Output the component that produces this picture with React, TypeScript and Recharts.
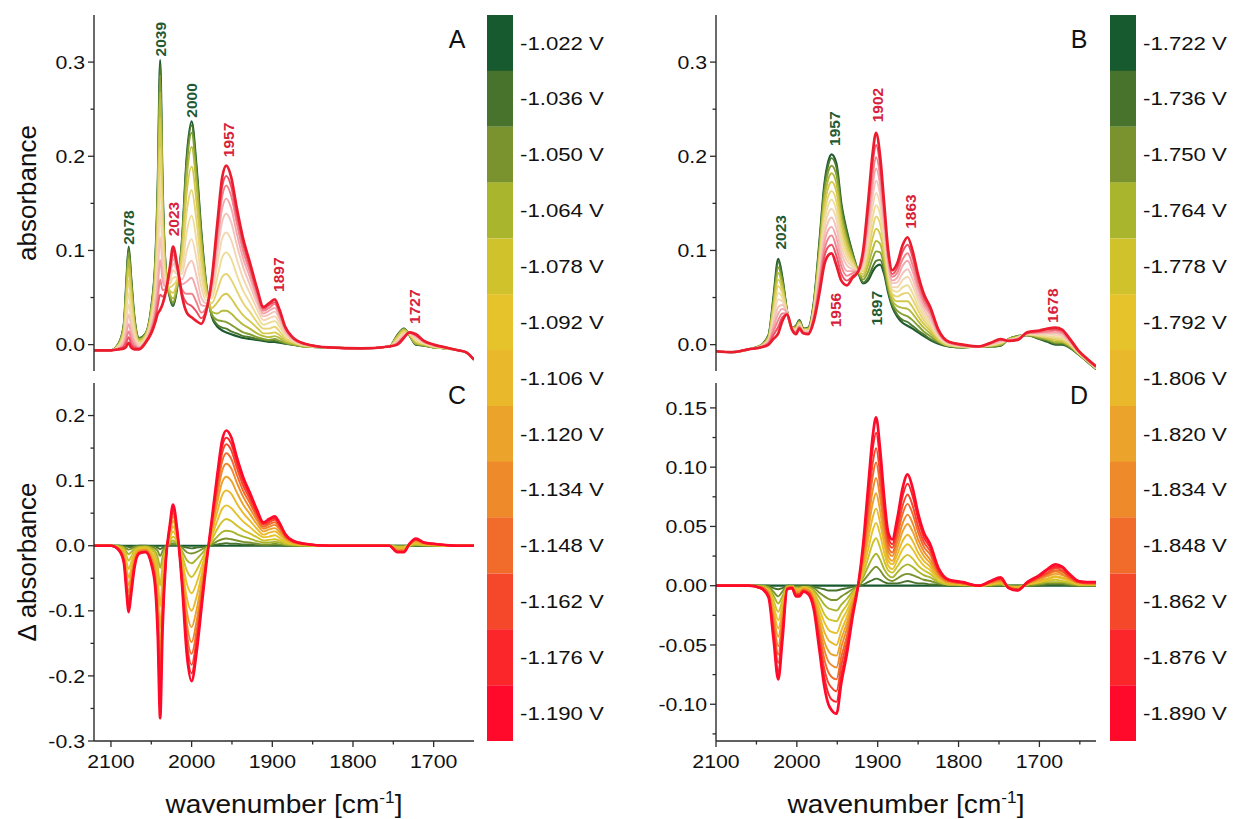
import React from "react";
import { LineChart, Line, XAxis, YAxis, BarChart, Bar, Cell, ReferenceDot } from "recharts";

const FONT = '"Liberation Sans", Arial, sans-serif';
const INK = "#2b2b2b";
const LABEL_INK = "#111111";
const GREEN_TEXT = "#1f5a32";
const RED_TEXT = "#d8213b";

// ---------- data: wavenumber grids [cm-1] ----------
const A_WN = [2121, 2100, 2090, 2084, 2081, 2078, 2075, 2071, 2065, 2057, 2050, 2045, 2042, 2039, 2036, 2032, 2027, 2023, 2018, 2012, 2006, 2000, 1994, 1988, 1982, 1975, 1968, 1962, 1957, 1951, 1944, 1936, 1928, 1919, 1911, 1904, 1897, 1891, 1884, 1875, 1860, 1830, 1790, 1755, 1745, 1737, 1730, 1722, 1712, 1700, 1685, 1670, 1660, 1650];
const B_WN = [2100, 2080, 2060, 2045, 2035, 2029, 2023, 2018, 2012, 2006, 2001, 1997, 1992, 1986, 1979, 1972, 1966, 1961, 1957, 1951, 1945, 1938, 1931, 1924, 1918, 1912, 1906, 1902, 1897, 1892, 1887, 1882, 1876, 1869, 1863, 1857, 1850, 1843, 1835, 1825, 1812, 1795, 1775, 1760, 1748, 1738, 1727, 1715, 1700, 1690, 1680, 1672, 1663, 1652, 1641, 1630];

// panel A: absorbance, one row per potential (-1.022 V ... -1.190 V)
const A_ABS = [
  [-0.006, -0.006, 0.002, 0.022, 0.065, 0.104, 0.072, 0.030, 0.007, 0.012, 0.040, 0.090, 0.170, 0.302, 0.170, 0.080, 0.050, 0.041, 0.060, 0.110, 0.200, 0.237, 0.190, 0.120, 0.065, 0.030, 0.019, 0.015, 0.013, 0.011, 0.009, 0.007, 0.006, 0.005, 0.004, 0.003, 0.003, 0.002, 0.001, 0.000, -0.002, -0.003, -0.004, -0.002, 0.010, 0.017, 0.010, 0.000, -0.001, -0.003, -0.004, -0.006, -0.008, -0.016],
  [-0.006, -0.006, 0.002, 0.021, 0.064, 0.102, 0.070, 0.029, 0.007, 0.012, 0.039, 0.089, 0.167, 0.297, 0.167, 0.080, 0.051, 0.042, 0.061, 0.109, 0.197, 0.233, 0.187, 0.118, 0.064, 0.031, 0.021, 0.018, 0.017, 0.014, 0.012, 0.009, 0.008, 0.006, 0.005, 0.004, 0.004, 0.003, 0.001, 0.000, -0.002, -0.003, -0.004, -0.002, 0.010, 0.017, 0.010, 0.000, -0.001, -0.003, -0.004, -0.006, -0.008, -0.016],
  [-0.006, -0.006, 0.002, 0.020, 0.061, 0.098, 0.067, 0.028, 0.006, 0.011, 0.038, 0.086, 0.162, 0.286, 0.162, 0.079, 0.052, 0.045, 0.062, 0.107, 0.190, 0.225, 0.180, 0.114, 0.063, 0.032, 0.026, 0.025, 0.024, 0.021, 0.017, 0.013, 0.011, 0.008, 0.006, 0.005, 0.006, 0.004, 0.002, 0.000, -0.002, -0.003, -0.004, -0.002, 0.009, 0.016, 0.010, 0.001, -0.001, -0.003, -0.004, -0.006, -0.008, -0.016],
  [-0.006, -0.006, 0.001, 0.019, 0.056, 0.091, 0.062, 0.025, 0.005, 0.011, 0.036, 0.081, 0.152, 0.268, 0.153, 0.077, 0.054, 0.049, 0.063, 0.102, 0.178, 0.210, 0.169, 0.107, 0.061, 0.035, 0.033, 0.036, 0.036, 0.033, 0.027, 0.021, 0.017, 0.012, 0.009, 0.008, 0.009, 0.007, 0.003, 0.001, -0.002, -0.003, -0.004, -0.002, 0.009, 0.016, 0.010, 0.001, 0.000, -0.003, -0.004, -0.006, -0.008, -0.016],
  [-0.006, -0.006, 0.000, 0.016, 0.050, 0.081, 0.055, 0.022, 0.004, 0.010, 0.034, 0.075, 0.138, 0.241, 0.141, 0.074, 0.057, 0.055, 0.066, 0.097, 0.162, 0.189, 0.152, 0.097, 0.058, 0.039, 0.045, 0.052, 0.054, 0.049, 0.040, 0.031, 0.025, 0.018, 0.012, 0.012, 0.013, 0.010, 0.005, 0.002, -0.001, -0.003, -0.004, -0.002, 0.008, 0.015, 0.011, 0.003, 0.000, -0.002, -0.004, -0.006, -0.008, -0.016],
  [-0.006, -0.006, 0.000, 0.013, 0.042, 0.068, 0.046, 0.018, 0.003, 0.008, 0.030, 0.067, 0.122, 0.209, 0.126, 0.072, 0.061, 0.063, 0.069, 0.090, 0.142, 0.164, 0.132, 0.086, 0.054, 0.044, 0.058, 0.072, 0.075, 0.069, 0.057, 0.044, 0.035, 0.024, 0.017, 0.017, 0.019, 0.014, 0.007, 0.003, -0.001, -0.003, -0.004, -0.002, 0.006, 0.013, 0.011, 0.004, 0.001, -0.002, -0.004, -0.006, -0.008, -0.016],
  [-0.006, -0.006, -0.001, 0.010, 0.033, 0.055, 0.036, 0.013, 0.001, 0.007, 0.027, 0.058, 0.104, 0.175, 0.109, 0.068, 0.065, 0.071, 0.072, 0.082, 0.120, 0.137, 0.111, 0.073, 0.051, 0.049, 0.072, 0.093, 0.098, 0.091, 0.074, 0.057, 0.045, 0.031, 0.021, 0.023, 0.025, 0.019, 0.010, 0.004, -0.001, -0.003, -0.004, -0.002, 0.005, 0.012, 0.011, 0.005, 0.001, -0.002, -0.004, -0.006, -0.008, -0.016],
  [-0.006, -0.006, -0.002, 0.006, 0.025, 0.043, 0.027, 0.009, 0.000, 0.006, 0.023, 0.050, 0.088, 0.143, 0.094, 0.066, 0.069, 0.079, 0.075, 0.075, 0.100, 0.112, 0.091, 0.061, 0.047, 0.054, 0.086, 0.113, 0.119, 0.111, 0.091, 0.070, 0.055, 0.038, 0.026, 0.028, 0.030, 0.023, 0.012, 0.005, 0.000, -0.003, -0.004, -0.002, 0.004, 0.011, 0.012, 0.007, 0.002, -0.001, -0.003, -0.006, -0.008, -0.016],
  [-0.006, -0.006, -0.003, 0.004, 0.017, 0.032, 0.019, 0.005, -0.002, 0.005, 0.020, 0.043, 0.073, 0.114, 0.080, 0.063, 0.073, 0.086, 0.078, 0.069, 0.082, 0.089, 0.073, 0.050, 0.044, 0.058, 0.098, 0.131, 0.139, 0.130, 0.106, 0.082, 0.064, 0.044, 0.030, 0.032, 0.035, 0.027, 0.014, 0.006, 0.000, -0.003, -0.004, -0.002, 0.003, 0.010, 0.012, 0.008, 0.003, -0.001, -0.003, -0.006, -0.008, -0.016],
  [-0.006, -0.006, -0.004, 0.001, 0.011, 0.022, 0.012, 0.002, -0.003, 0.004, 0.018, 0.037, 0.060, 0.090, 0.068, 0.061, 0.076, 0.091, 0.080, 0.064, 0.067, 0.071, 0.058, 0.042, 0.041, 0.062, 0.108, 0.145, 0.155, 0.145, 0.118, 0.091, 0.072, 0.049, 0.033, 0.036, 0.039, 0.030, 0.015, 0.006, 0.000, -0.003, -0.004, -0.002, 0.002, 0.009, 0.012, 0.009, 0.003, -0.001, -0.003, -0.006, -0.008, -0.016],
  [-0.006, -0.006, -0.004, -0.001, 0.006, 0.014, 0.006, -0.001, -0.004, 0.003, 0.015, 0.032, 0.049, 0.069, 0.058, 0.059, 0.078, 0.096, 0.082, 0.059, 0.054, 0.054, 0.045, 0.034, 0.039, 0.065, 0.117, 0.158, 0.169, 0.158, 0.129, 0.099, 0.078, 0.053, 0.036, 0.039, 0.043, 0.033, 0.017, 0.007, 0.001, -0.003, -0.004, -0.002, 0.001, 0.008, 0.013, 0.010, 0.003, 0.000, -0.003, -0.006, -0.008, -0.016],
  [-0.006, -0.006, -0.005, -0.002, 0.002, 0.008, 0.001, -0.003, -0.004, 0.003, 0.014, 0.028, 0.041, 0.053, 0.051, 0.057, 0.080, 0.100, 0.084, 0.055, 0.044, 0.041, 0.035, 0.028, 0.037, 0.068, 0.123, 0.168, 0.179, 0.168, 0.137, 0.106, 0.083, 0.057, 0.038, 0.042, 0.045, 0.035, 0.018, 0.008, 0.001, -0.003, -0.004, -0.002, 0.001, 0.008, 0.013, 0.010, 0.004, 0.000, -0.003, -0.006, -0.008, -0.016],
  [-0.006, -0.006, -0.005, -0.004, -0.002, 0.002, -0.003, -0.005, -0.005, 0.002, 0.012, 0.024, 0.033, 0.037, 0.043, 0.056, 0.082, 0.104, 0.085, 0.052, 0.034, 0.029, 0.025, 0.022, 0.035, 0.070, 0.130, 0.178, 0.190, 0.178, 0.145, 0.112, 0.088, 0.060, 0.040, 0.044, 0.048, 0.037, 0.019, 0.008, 0.001, -0.003, -0.004, -0.002, 0.000, 0.007, 0.013, 0.011, 0.004, 0.000, -0.003, -0.006, -0.008, -0.016],
];

// panel C: difference spectra vs. -1.022 V
const C_DELTA = [
  [0, 0, 0, 0, 0, 0, 0, 0, 0, 0, 0, 0, 0, 0, 0, 0, 0, 0, 0, 0, 0, 0, 0, 0, 0, 0, 0, 0, 0, 0, 0, 0, 0, 0, 0, 0, 0, 0, 0, 0, 0, 0, 0, 0, 0, 0, 0, 0, 0, 0, 0, 0, 0, 0],
  [0, 0, 0, -0.001, -0.001, -0.002, -0.002, -0.001, 0, 0, -0.001, -0.001, -0.003, -0.005, -0.003, 0, 0.001, 0.001, 0.001, -0.001, -0.003, -0.004, -0.003, -0.002, -0.001, 0.001, 0.002, 0.003, 0.004, 0.003, 0.003, 0.002, 0.002, 0.001, 0.001, 0.001, 0.001, 0.001, 0, 0, 0, 0, 0, 0, 0, 0, 0, 0, 0, 0, 0, 0, 0, 0],
  [0, 0, 0, -0.002, -0.004, -0.006, -0.005, -0.002, -0.001, -0.001, -0.002, -0.004, -0.008, -0.016, -0.008, -0.001, 0.002, 0.004, 0.002, -0.003, -0.010, -0.012, -0.010, -0.006, -0.002, 0.002, 0.007, 0.010, 0.011, 0.010, 0.008, 0.006, 0.005, 0.003, 0.002, 0.002, 0.003, 0.002, 0.001, 0, 0, 0, 0, 0, -0.001, -0.001, 0, 0.001, 0, 0, 0, 0, 0, 0],
  [0, 0, -0.001, -0.003, -0.009, -0.013, -0.010, -0.005, -0.002, -0.001, -0.004, -0.009, -0.018, -0.034, -0.017, -0.003, 0.004, 0.008, 0.003, -0.008, -0.022, -0.027, -0.021, -0.013, -0.004, 0.005, 0.014, 0.021, 0.023, 0.022, 0.018, 0.014, 0.011, 0.007, 0.005, 0.005, 0.006, 0.005, 0.002, 0.001, 0, 0, 0, 0, -0.001, -0.001, 0, 0.001, 0.001, 0, 0, 0, 0, 0],
  [0, 0, -0.002, -0.006, -0.015, -0.023, -0.017, -0.008, -0.003, -0.002, -0.006, -0.015, -0.032, -0.061, -0.029, -0.006, 0.007, 0.014, 0.006, -0.013, -0.038, -0.048, -0.038, -0.023, -0.007, 0.009, 0.026, 0.037, 0.041, 0.038, 0.031, 0.024, 0.019, 0.013, 0.008, 0.009, 0.010, 0.008, 0.004, 0.002, 0.001, 0, 0, 0, -0.002, -0.002, 0.001, 0.003, 0.001, 0.001, 0, 0, 0, 0],
  [0, 0, -0.002, -0.009, -0.023, -0.036, -0.026, -0.012, -0.004, -0.004, -0.010, -0.023, -0.048, -0.093, -0.044, -0.008, 0.011, 0.022, 0.009, -0.020, -0.058, -0.073, -0.058, -0.034, -0.011, 0.014, 0.039, 0.057, 0.062, 0.058, 0.048, 0.037, 0.029, 0.019, 0.013, 0.014, 0.016, 0.012, 0.006, 0.003, 0.001, 0, 0, 0, -0.004, -0.004, 0.001, 0.004, 0.002, 0.001, 0, 0, 0, 0],
  [0, 0, -0.003, -0.012, -0.032, -0.049, -0.036, -0.017, -0.006, -0.005, -0.013, -0.032, -0.066, -0.127, -0.061, -0.012, 0.015, 0.030, 0.012, -0.028, -0.080, -0.100, -0.079, -0.047, -0.014, 0.019, 0.053, 0.078, 0.085, 0.080, 0.065, 0.050, 0.039, 0.026, 0.017, 0.020, 0.022, 0.017, 0.009, 0.004, 0.001, 0, 0, 0, -0.005, -0.005, 0.001, 0.005, 0.002, 0.001, 0, 0, 0, 0],
  [0, 0, -0.004, -0.016, -0.040, -0.061, -0.045, -0.021, -0.007, -0.006, -0.017, -0.040, -0.082, -0.159, -0.076, -0.014, 0.019, 0.038, 0.015, -0.035, -0.100, -0.125, -0.099, -0.059, -0.018, 0.024, 0.067, 0.098, 0.106, 0.100, 0.082, 0.063, 0.049, 0.033, 0.022, 0.025, 0.027, 0.021, 0.011, 0.005, 0.002, 0, 0, 0, -0.006, -0.006, 0.002, 0.007, 0.003, 0.002, 0.001, 0, 0, 0],
  [0, 0, -0.005, -0.018, -0.048, -0.072, -0.053, -0.025, -0.009, -0.007, -0.020, -0.047, -0.097, -0.188, -0.090, -0.017, 0.023, 0.045, 0.018, -0.041, -0.118, -0.148, -0.117, -0.070, -0.021, 0.028, 0.079, 0.116, 0.126, 0.119, 0.097, 0.075, 0.058, 0.039, 0.026, 0.029, 0.032, 0.025, 0.013, 0.006, 0.002, 0, 0, 0, -0.007, -0.007, 0.002, 0.008, 0.004, 0.002, 0.001, 0, 0, 0],
  [0, 0, -0.006, -0.021, -0.054, -0.082, -0.060, -0.028, -0.010, -0.008, -0.022, -0.053, -0.110, -0.212, -0.102, -0.019, 0.026, 0.050, 0.020, -0.046, -0.133, -0.166, -0.132, -0.078, -0.024, 0.032, 0.089, 0.130, 0.142, 0.134, 0.109, 0.084, 0.066, 0.044, 0.029, 0.033, 0.036, 0.028, 0.014, 0.006, 0.002, 0, 0, 0, -0.008, -0.008, 0.002, 0.009, 0.004, 0.002, 0.001, 0, 0, 0],
  [0, 0, -0.006, -0.023, -0.059, -0.090, -0.066, -0.031, -0.011, -0.009, -0.025, -0.058, -0.121, -0.233, -0.112, -0.021, 0.028, 0.055, 0.022, -0.051, -0.146, -0.183, -0.145, -0.086, -0.026, 0.035, 0.098, 0.143, 0.156, 0.147, 0.120, 0.092, 0.072, 0.048, 0.032, 0.036, 0.040, 0.031, 0.016, 0.007, 0.003, 0, 0, 0, -0.009, -0.009, 0.003, 0.010, 0.004, 0.003, 0.001, 0, 0, 0],
  [0, 0, -0.007, -0.024, -0.063, -0.096, -0.071, -0.033, -0.011, -0.009, -0.026, -0.062, -0.129, -0.249, -0.119, -0.023, 0.030, 0.059, 0.024, -0.055, -0.156, -0.196, -0.155, -0.092, -0.028, 0.038, 0.104, 0.153, 0.166, 0.157, 0.128, 0.099, 0.077, 0.052, 0.034, 0.039, 0.042, 0.033, 0.017, 0.008, 0.003, 0, 0, 0, -0.009, -0.009, 0.003, 0.010, 0.005, 0.003, 0.001, 0, 0, 0],
  [0, 0, -0.007, -0.026, -0.067, -0.102, -0.075, -0.035, -0.012, -0.010, -0.028, -0.066, -0.137, -0.265, -0.127, -0.024, 0.032, 0.063, 0.025, -0.058, -0.166, -0.208, -0.165, -0.098, -0.030, 0.040, 0.111, 0.163, 0.177, 0.167, 0.136, 0.105, 0.082, 0.055, 0.036, 0.041, 0.045, 0.035, 0.018, 0.008, 0.003, 0, 0, 0, -0.010, -0.010, 0.003, 0.011, 0.005, 0.003, 0.001, 0, 0, 0],
];

// panel B: absorbance (-1.722 V ... -1.890 V)
const B_ABS = [
  [-0.007, -0.008, -0.005, -0.001, 0.010, 0.050, 0.091, 0.072, 0.035, 0.018, 0.020, 0.026, 0.017, 0.018, 0.045, 0.110, 0.170, 0.195, 0.202, 0.192, 0.150, 0.120, 0.097, 0.077, 0.065, 0.068, 0.078, 0.083, 0.085, 0.075, 0.055, 0.040, 0.030, 0.023, 0.020, 0.017, 0.013, 0.009, 0.005, 0.001, -0.002, -0.003, -0.002, -0.002, -0.001, 0.006, 0.009, 0.010, 0.006, 0.003, 0.000, 0.000, -0.003, -0.010, -0.018, -0.026],
  [-0.007, -0.008, -0.005, -0.001, 0.010, 0.048, 0.088, 0.070, 0.035, 0.018, 0.020, 0.026, 0.017, 0.018, 0.044, 0.108, 0.167, 0.191, 0.198, 0.188, 0.147, 0.118, 0.096, 0.077, 0.066, 0.071, 0.083, 0.089, 0.090, 0.078, 0.057, 0.042, 0.032, 0.026, 0.024, 0.020, 0.015, 0.011, 0.006, 0.002, -0.002, -0.003, -0.002, -0.002, -0.001, 0.006, 0.009, 0.010, 0.006, 0.004, 0.001, 0.001, -0.003, -0.010, -0.018, -0.026],
  [-0.007, -0.008, -0.005, -0.001, 0.009, 0.045, 0.082, 0.067, 0.035, 0.018, 0.019, 0.025, 0.016, 0.017, 0.043, 0.104, 0.161, 0.184, 0.190, 0.180, 0.141, 0.114, 0.094, 0.077, 0.069, 0.077, 0.092, 0.099, 0.098, 0.083, 0.060, 0.044, 0.036, 0.032, 0.030, 0.026, 0.020, 0.014, 0.009, 0.003, -0.001, -0.003, -0.002, -0.002, 0.000, 0.006, 0.009, 0.010, 0.007, 0.005, 0.002, 0.002, -0.002, -0.010, -0.018, -0.026],
  [-0.007, -0.008, -0.005, -0.001, 0.008, 0.042, 0.076, 0.063, 0.034, 0.018, 0.018, 0.024, 0.016, 0.017, 0.041, 0.100, 0.154, 0.176, 0.182, 0.171, 0.134, 0.109, 0.092, 0.077, 0.072, 0.084, 0.102, 0.110, 0.107, 0.089, 0.064, 0.047, 0.041, 0.039, 0.038, 0.033, 0.025, 0.018, 0.012, 0.004, -0.001, -0.002, -0.002, -0.001, 0.000, 0.006, 0.008, 0.011, 0.008, 0.006, 0.003, 0.003, -0.001, -0.009, -0.017, -0.025],
  [-0.007, -0.008, -0.005, -0.002, 0.007, 0.038, 0.069, 0.059, 0.034, 0.017, 0.017, 0.023, 0.016, 0.016, 0.039, 0.095, 0.146, 0.167, 0.173, 0.162, 0.127, 0.104, 0.090, 0.077, 0.075, 0.091, 0.114, 0.123, 0.117, 0.096, 0.068, 0.051, 0.046, 0.046, 0.046, 0.040, 0.030, 0.022, 0.015, 0.005, -0.001, -0.002, -0.002, -0.001, 0.001, 0.005, 0.008, 0.011, 0.009, 0.007, 0.005, 0.004, 0.000, -0.009, -0.017, -0.025],
  [-0.007, -0.008, -0.005, -0.002, 0.006, 0.034, 0.062, 0.055, 0.034, 0.017, 0.017, 0.023, 0.015, 0.015, 0.038, 0.090, 0.139, 0.158, 0.163, 0.152, 0.120, 0.099, 0.087, 0.077, 0.078, 0.098, 0.125, 0.136, 0.128, 0.103, 0.072, 0.054, 0.051, 0.054, 0.055, 0.048, 0.036, 0.026, 0.018, 0.007, 0.000, -0.002, -0.002, -0.001, 0.002, 0.005, 0.008, 0.011, 0.009, 0.008, 0.007, 0.006, 0.001, -0.009, -0.017, -0.025],
  [-0.007, -0.008, -0.005, -0.002, 0.005, 0.030, 0.055, 0.050, 0.034, 0.017, 0.016, 0.022, 0.015, 0.015, 0.036, 0.085, 0.131, 0.149, 0.154, 0.142, 0.112, 0.094, 0.085, 0.077, 0.081, 0.106, 0.136, 0.148, 0.138, 0.110, 0.076, 0.058, 0.056, 0.061, 0.063, 0.055, 0.041, 0.030, 0.021, 0.008, 0.000, -0.002, -0.002, 0.000, 0.002, 0.005, 0.007, 0.011, 0.010, 0.009, 0.008, 0.007, 0.002, -0.008, -0.017, -0.025],
  [-0.007, -0.008, -0.005, -0.002, 0.004, 0.026, 0.048, 0.046, 0.033, 0.017, 0.015, 0.021, 0.014, 0.014, 0.034, 0.080, 0.123, 0.140, 0.144, 0.133, 0.105, 0.089, 0.083, 0.078, 0.084, 0.113, 0.148, 0.161, 0.148, 0.116, 0.080, 0.061, 0.061, 0.069, 0.072, 0.063, 0.047, 0.034, 0.024, 0.009, 0.001, -0.001, -0.002, 0.000, 0.003, 0.005, 0.007, 0.012, 0.011, 0.011, 0.010, 0.009, 0.003, -0.008, -0.016, -0.024],
  [-0.007, -0.008, -0.005, -0.002, 0.004, 0.022, 0.040, 0.042, 0.033, 0.017, 0.014, 0.020, 0.014, 0.014, 0.032, 0.075, 0.116, 0.131, 0.135, 0.123, 0.098, 0.084, 0.080, 0.078, 0.087, 0.120, 0.159, 0.174, 0.159, 0.123, 0.084, 0.065, 0.066, 0.076, 0.080, 0.070, 0.052, 0.038, 0.027, 0.011, 0.001, -0.001, -0.002, 0.001, 0.003, 0.005, 0.006, 0.012, 0.012, 0.012, 0.012, 0.010, 0.003, -0.007, -0.016, -0.024],
  [-0.007, -0.008, -0.005, -0.002, 0.003, 0.018, 0.033, 0.038, 0.033, 0.017, 0.013, 0.019, 0.013, 0.013, 0.030, 0.070, 0.108, 0.122, 0.125, 0.113, 0.090, 0.078, 0.078, 0.078, 0.091, 0.128, 0.171, 0.187, 0.169, 0.130, 0.088, 0.068, 0.071, 0.084, 0.089, 0.078, 0.058, 0.042, 0.031, 0.012, 0.002, -0.001, -0.002, 0.001, 0.004, 0.005, 0.006, 0.012, 0.013, 0.013, 0.013, 0.012, 0.004, -0.007, -0.016, -0.024],
  [-0.007, -0.008, -0.005, -0.003, 0.002, 0.014, 0.026, 0.033, 0.033, 0.016, 0.013, 0.019, 0.013, 0.012, 0.029, 0.065, 0.100, 0.113, 0.116, 0.103, 0.083, 0.073, 0.076, 0.078, 0.094, 0.135, 0.182, 0.199, 0.179, 0.137, 0.092, 0.072, 0.076, 0.091, 0.097, 0.085, 0.063, 0.046, 0.034, 0.013, 0.002, -0.001, -0.002, 0.001, 0.005, 0.004, 0.006, 0.012, 0.013, 0.014, 0.015, 0.013, 0.005, -0.007, -0.016, -0.024],
  [-0.007, -0.008, -0.005, -0.003, 0.001, 0.010, 0.019, 0.029, 0.032, 0.016, 0.012, 0.018, 0.012, 0.012, 0.027, 0.060, 0.093, 0.104, 0.106, 0.094, 0.075, 0.068, 0.073, 0.078, 0.097, 0.143, 0.194, 0.212, 0.190, 0.143, 0.096, 0.075, 0.081, 0.099, 0.106, 0.093, 0.069, 0.050, 0.037, 0.015, 0.003, 0.000, -0.002, 0.002, 0.005, 0.004, 0.005, 0.013, 0.014, 0.016, 0.016, 0.015, 0.006, -0.006, -0.015, -0.023],
  [-0.007, -0.008, -0.005, -0.003, 0.000, 0.006, 0.012, 0.025, 0.032, 0.016, 0.011, 0.017, 0.012, 0.011, 0.025, 0.055, 0.085, 0.095, 0.097, 0.084, 0.068, 0.063, 0.071, 0.078, 0.100, 0.150, 0.205, 0.225, 0.200, 0.150, 0.100, 0.079, 0.086, 0.106, 0.114, 0.100, 0.074, 0.054, 0.040, 0.016, 0.003, 0.000, -0.002, 0.002, 0.006, 0.004, 0.005, 0.013, 0.015, 0.017, 0.018, 0.016, 0.007, -0.006, -0.015, -0.023],
];

// panel D: difference spectra vs. -1.722 V
const D_DELTA = [
  [0, 0, 0, 0, 0, 0, 0, 0, 0, 0, 0, 0, 0, 0, 0, 0, 0, 0, 0, 0, 0, 0, 0, 0, 0, 0, 0, 0, 0, 0, 0, 0, 0, 0, 0, 0, 0, 0, 0, 0, 0, 0, 0, 0, 0, 0, 0, 0, 0, 0, 0, 0, 0, 0, 0, 0],
  [0, 0, 0, 0, 0, -0.002, -0.003, -0.002, 0, 0, 0, 0, 0, 0, -0.001, -0.002, -0.003, -0.004, -0.004, -0.004, -0.003, -0.002, -0.001, 0, 0.001, 0.003, 0.005, 0.006, 0.005, 0.003, 0.002, 0.002, 0.002, 0.003, 0.004, 0.003, 0.002, 0.002, 0.001, 0.001, 0, 0, 0, 0, 0, 0, 0, 0, 0, 0.001, 0.001, 0.001, 0, 0, 0, 0],
  [0, 0, 0, 0, -0.001, -0.005, -0.009, -0.005, 0, 0, -0.001, -0.001, -0.001, -0.001, -0.002, -0.006, -0.009, -0.011, -0.012, -0.012, -0.009, -0.006, -0.003, 0, 0.004, 0.009, 0.014, 0.016, 0.013, 0.008, 0.005, 0.004, 0.006, 0.009, 0.010, 0.009, 0.007, 0.005, 0.004, 0.002, 0.001, 0, 0, 0, 0.001, 0, 0, 0, 0.001, 0.002, 0.002, 0.002, 0.001, 0, 0, 0],
  [0, 0, 0, 0, -0.002, -0.008, -0.015, -0.009, -0.001, 0, -0.002, -0.002, -0.001, -0.001, -0.004, -0.010, -0.016, -0.019, -0.020, -0.021, -0.016, -0.011, -0.005, 0, 0.007, 0.016, 0.024, 0.027, 0.022, 0.014, 0.009, 0.007, 0.011, 0.016, 0.018, 0.016, 0.012, 0.009, 0.007, 0.003, 0.001, 0.001, 0, 0.001, 0.001, 0, -0.001, 0.001, 0.002, 0.003, 0.003, 0.003, 0.002, 0.001, 0.001, 0.001],
  [0, 0, 0, -0.001, -0.003, -0.012, -0.022, -0.013, -0.001, -0.001, -0.003, -0.003, -0.001, -0.002, -0.006, -0.015, -0.024, -0.028, -0.029, -0.030, -0.023, -0.016, -0.007, 0, 0.010, 0.023, 0.036, 0.040, 0.032, 0.021, 0.013, 0.011, 0.016, 0.023, 0.026, 0.023, 0.017, 0.013, 0.010, 0.004, 0.001, 0.001, 0, 0.001, 0.002, -0.001, -0.001, 0.001, 0.003, 0.004, 0.005, 0.004, 0.003, 0.001, 0.001, 0.001],
  [0, 0, 0, -0.001, -0.004, -0.016, -0.029, -0.017, -0.001, -0.001, -0.003, -0.003, -0.002, -0.003, -0.007, -0.020, -0.031, -0.037, -0.039, -0.040, -0.030, -0.021, -0.010, 0, 0.013, 0.030, 0.047, 0.053, 0.043, 0.028, 0.017, 0.014, 0.021, 0.031, 0.035, 0.031, 0.023, 0.017, 0.013, 0.006, 0.002, 0.001, 0, 0.001, 0.003, -0.001, -0.001, 0.001, 0.003, 0.005, 0.007, 0.006, 0.004, 0.001, 0.001, 0.001],
  [0, 0, 0, -0.001, -0.005, -0.020, -0.036, -0.022, -0.001, -0.001, -0.004, -0.004, -0.002, -0.003, -0.009, -0.025, -0.039, -0.046, -0.048, -0.050, -0.038, -0.026, -0.012, 0, 0.016, 0.038, 0.058, 0.065, 0.053, 0.035, 0.021, 0.018, 0.026, 0.038, 0.043, 0.038, 0.028, 0.021, 0.016, 0.007, 0.002, 0.001, 0, 0.002, 0.003, -0.001, -0.002, 0.001, 0.004, 0.006, 0.008, 0.007, 0.005, 0.002, 0.001, 0.001],
  [0, 0, 0, -0.001, -0.006, -0.024, -0.043, -0.026, -0.002, -0.001, -0.005, -0.005, -0.003, -0.004, -0.011, -0.030, -0.047, -0.055, -0.058, -0.059, -0.045, -0.031, -0.014, 0.001, 0.019, 0.045, 0.070, 0.078, 0.063, 0.041, 0.025, 0.021, 0.031, 0.046, 0.052, 0.046, 0.034, 0.025, 0.019, 0.008, 0.003, 0.002, 0, 0.002, 0.004, -0.001, -0.002, 0.002, 0.005, 0.008, 0.010, 0.009, 0.006, 0.002, 0.002, 0.002],
  [0, 0, 0, -0.001, -0.006, -0.028, -0.051, -0.030, -0.002, -0.001, -0.006, -0.006, -0.003, -0.004, -0.013, -0.035, -0.054, -0.064, -0.067, -0.069, -0.052, -0.036, -0.017, 0.001, 0.022, 0.052, 0.081, 0.091, 0.074, 0.048, 0.029, 0.025, 0.036, 0.053, 0.060, 0.053, 0.039, 0.029, 0.022, 0.010, 0.003, 0.002, 0, 0.003, 0.004, -0.001, -0.003, 0.002, 0.006, 0.009, 0.012, 0.010, 0.006, 0.003, 0.002, 0.002],
  [0, 0, 0, -0.001, -0.007, -0.032, -0.058, -0.034, -0.002, -0.001, -0.007, -0.007, -0.004, -0.005, -0.015, -0.040, -0.062, -0.073, -0.077, -0.079, -0.060, -0.042, -0.019, 0.001, 0.026, 0.060, 0.093, 0.104, 0.084, 0.055, 0.033, 0.028, 0.041, 0.061, 0.069, 0.061, 0.045, 0.033, 0.026, 0.011, 0.004, 0.002, 0, 0.003, 0.005, -0.001, -0.003, 0.002, 0.007, 0.010, 0.013, 0.012, 0.007, 0.003, 0.002, 0.002],
  [0, 0, 0, -0.002, -0.008, -0.036, -0.065, -0.039, -0.002, -0.002, -0.007, -0.007, -0.004, -0.006, -0.016, -0.045, -0.070, -0.082, -0.086, -0.089, -0.067, -0.047, -0.021, 0.001, 0.029, 0.067, 0.104, 0.116, 0.094, 0.062, 0.037, 0.032, 0.046, 0.068, 0.077, 0.068, 0.050, 0.037, 0.029, 0.012, 0.004, 0.002, 0, 0.003, 0.006, -0.002, -0.003, 0.002, 0.007, 0.011, 0.015, 0.013, 0.008, 0.003, 0.002, 0.002],
  [0, 0, 0, -0.002, -0.009, -0.040, -0.072, -0.043, -0.003, -0.002, -0.008, -0.008, -0.005, -0.006, -0.018, -0.050, -0.077, -0.091, -0.096, -0.098, -0.075, -0.052, -0.024, 0.001, 0.032, 0.075, 0.116, 0.129, 0.105, 0.068, 0.041, 0.035, 0.051, 0.076, 0.086, 0.076, 0.056, 0.041, 0.032, 0.014, 0.005, 0.003, 0, 0.004, 0.006, -0.002, -0.004, 0.003, 0.008, 0.013, 0.016, 0.015, 0.009, 0.004, 0.003, 0.003],
  [0, 0, 0, -0.002, -0.010, -0.044, -0.079, -0.047, -0.003, -0.002, -0.009, -0.009, -0.005, -0.007, -0.020, -0.055, -0.085, -0.100, -0.105, -0.108, -0.082, -0.057, -0.026, 0.001, 0.035, 0.082, 0.127, 0.142, 0.115, 0.075, 0.045, 0.039, 0.056, 0.083, 0.094, 0.083, 0.061, 0.045, 0.035, 0.015, 0.005, 0.003, 0, 0.004, 0.007, -0.002, -0.004, 0.003, 0.009, 0.014, 0.018, 0.016, 0.010, 0.004, 0.003, 0.003],
];

const VOLTS_LEFT = ["-1.022 V", "-1.036 V", "-1.050 V", "-1.064 V", "-1.078 V", "-1.092 V", "-1.106 V", "-1.120 V", "-1.134 V", "-1.148 V", "-1.162 V", "-1.176 V", "-1.190 V"];
const VOLTS_RIGHT = ["-1.722 V", "-1.736 V", "-1.750 V", "-1.764 V", "-1.778 V", "-1.792 V", "-1.806 V", "-1.820 V", "-1.834 V", "-1.848 V", "-1.862 V", "-1.876 V", "-1.890 V"];

// tick values
const ABS_Y_MAJOR = [0, 0.1, 0.2, 0.3];
const ABS_Y_MINOR = [0.05, 0.15, 0.25];
const C_Y_MAJOR = [-0.3, -0.2, -0.1, 0, 0.1, 0.2];
const C_Y_MINOR = [-0.25, -0.15, -0.05, 0.05, 0.15];
const D_Y_MAJOR = [-0.1, -0.05, 0, 0.05, 0.1, 0.15];
const D_Y_MINOR = [-0.125, -0.075, -0.025, 0.025, 0.075, 0.125];
const X_MAJOR = [2100, 2000, 1900, 1800, 1700];
const C_X_MINOR = [2050, 1950, 1850, 1750];
const D_X_MINOR = [2050, 1950, 1850, 1750, 1650];

// peak annotations
const A_PEAK_TEXT = ["2078", "2039", "2000", "2023", "1957", "1897", "1727"];
const A_PEAK_WN = [2078, 2039, 2000, 2022, 1955, 1893, 1724];
const A_PEAK_ABS = [0.106, 0.306, 0.241, 0.115, 0.199, 0.056, 0.022];
const B_PEAK_TEXT = ["2023", "1957", "1902", "1863", "1956", "1897", "1678"];
const B_PEAK_WN = [2020, 1953, 1900, 1860, 1952, 1901, 1684];
const B_PEAK_ABS = [0.101, 0.211, 0.236, 0.123, 0.055, 0.057, 0.023];

// ---------- styles ----------
const SPECTRUM_COLORS = ["#1e5b31", "#4f7b2e", "#84a033", "#b4ba3b", "#d5c94d", "#e6d472", "#eedc98", "#f3d7b2", "#f4c3b9", "#f3a6ab", "#f1818a", "#ee5063", "#ec1c2f"];
const BAR_COLORS = ["#175a2f", "#47732d", "#7a932e", "#a9b52c", "#cfc22a", "#e6c22b", "#e9b82b", "#eca32b", "#ef8a2b", "#f16b2b", "#f5482a", "#fb2629", "#ff0a2a"];
const A_PEAK_TONE = [GREEN_TEXT, GREEN_TEXT, GREEN_TEXT, RED_TEXT, RED_TEXT, RED_TEXT, RED_TEXT];
const A_PEAK_BELOW = [false, false, false, false, false, false, false];
const B_PEAK_TONE = [GREEN_TEXT, GREEN_TEXT, RED_TEXT, RED_TEXT, RED_TEXT, GREEN_TEXT, RED_TEXT];
const B_PEAK_BELOW = [false, false, false, false, true, true, false];

const TICK_FS = 18.5;
const TICK_SX = 1.15;
const CB_FS = 18.5;
const CB_SX = 1.2;
const TITLE_FS = 26;
const TITLE_SX = 1.08;
const LETTER_FS = 25;
const PEAK_FS = 15.5;

// layout
const CHART_W = 480;
const AXIS_W = 94;
const PAD_R = 6;
const COL_LEFT = [0, 622];
const CBAR_LEFT = [487, 1110];
const TOP_Y = 15;
const TOP_BOTTOM = 371;
const LOW_Y = 383;
const LOW_BOTTOM = 741;

function buildRows(wn: number[], series: number[][]) {
  return wn.map((w, j) => {
    const row: Record<string, number> = { wn: w };
    series.forEach((s, i) => {
      row["s" + i] = s[j];
    });
    return row;
  });
}

const near = (list: number[], v: number) => list.some((m) => Math.abs(m - v) < 1e-6);

function makeYTick(majors: number[], digits: number) {
  return (props: any) => {
    const { x, y, payload } = props;
    const v = payload.value as number;
    const major = near(majors, v);
    return (
      <g>
        <line x1={x} x2={x - (major ? 6 : 3.5)} y1={y} y2={y} stroke={INK} strokeWidth={1.3} />
        {major && (
          <text
            transform={`translate(${x - 9},${y}) scale(${TICK_SX},1)`}
            textAnchor="end"
            dy="0.36em"
            fontSize={TICK_FS}
            fontFamily={FONT}
            fill={LABEL_INK}
          >
            {v.toFixed(digits)}
          </text>
        )}
      </g>
    );
  };
}

function makeXTick(majors: number[]) {
  return (props: any) => {
    const { x, y, payload } = props;
    const v = payload.value as number;
    const major = near(majors, v);
    return (
      <g>
        <line x1={x} x2={x} y1={y} y2={y + (major ? 6 : 3.5)} stroke={INK} strokeWidth={1.3} />
        {major && (
          <text
            transform={`translate(${x},${y + 20}) scale(${TICK_SX},1)`}
            textAnchor="middle"
            dy="0.36em"
            fontSize={TICK_FS}
            fontFamily={FONT}
            fill={LABEL_INK}
          >
            {v}
          </text>
        )}
      </g>
    );
  };
}

function peakLabel(text: string, color: string, below: boolean) {
  return (lp: any) => {
    const vb = lp.viewBox || {};
    const cx = (vb.x ?? lp.x ?? 0) + (vb.width ?? 0) / 2;
    const cy = (vb.y ?? lp.y ?? 0) + (vb.height ?? 0) / 2;
    return (
      <text
        transform={`translate(${cx},${cy}) rotate(-90)`}
        textAnchor={below ? "end" : "start"}
        dy="0.36em"
        fontSize={PEAK_FS}
        fontWeight="bold"
        fontFamily={FONT}
        fill={color}
      >
        {text}
      </text>
    );
  };
}

type PanelProps = {
  left: number;
  top: number;
  height: number;
  marginTop: number;
  marginBottom: number;
  xAxisHeight: number;
  wn: number[];
  series: number[][];
  colors: string[];
  xDomain: [number, number];
  yDomain: [number, number];
  yMajor: number[];
  yMinor: number[];
  yDigits: number;
  xMajor: number[];
  xMinor: number[];
  boxTop: boolean;
  peakText?: string[];
  peakWn?: number[];
  peakAbs?: number[];
  peakTone?: string[];
  peakBelow?: boolean[];
};

function SpectrumPanel(p: PanelProps) {
  const data = buildRows(p.wn, p.series);
  const yTicks = [...p.yMajor, ...p.yMinor].sort((a, b) => a - b);
  const xTicks = [...p.xMajor, ...p.xMinor].sort((a, b) => b - a);
  const frame = { stroke: INK, strokeWidth: 1.4 };
  const last = p.series.length - 1;
  return (
    <div style={{ position: "absolute", left: p.left, top: p.top }}>
      <LineChart
        width={CHART_W}
        height={p.height}
        data={data}
        margin={{ top: p.marginTop, right: PAD_R, bottom: p.marginBottom, left: 0 }}
      >
        <XAxis
          xAxisId="x"
          type="number"
          dataKey="wn"
          domain={p.xDomain}
          reversed
          allowDataOverflow
          ticks={xTicks.length ? xTicks : undefined}
          interval={0}
          height={p.xAxisHeight}
          tickSize={0}
          tickMargin={0}
          tickLine={false}
          axisLine={frame}
          tick={xTicks.length ? makeXTick(p.xMajor) : false}
        />
        {p.boxTop && (
          <XAxis
            xAxisId="top"
            orientation="top"
            type="number"
            domain={p.xDomain}
            reversed
            allowDataOverflow
            height={0}
            tick={false}
            tickLine={false}
            axisLine={frame}
          />
        )}
        <YAxis
          yAxisId="y"
          type="number"
          domain={p.yDomain}
          allowDataOverflow
          ticks={yTicks}
          interval={0}
          width={AXIS_W}
          tickSize={0}
          tickMargin={0}
          tickLine={false}
          axisLine={frame}
          tick={makeYTick(p.yMajor, p.yDigits)}
        />
        <YAxis
          yAxisId="r"
          orientation="right"
          type="number"
          domain={p.yDomain}
          allowDataOverflow
          width={0}
          tick={false}
          tickLine={false}
          axisLine={frame}
        />
        {p.series.map((_, i) => (
          <Line
            key={i}
            xAxisId="x"
            yAxisId="y"
            type="monotone"
            dataKey={"s" + i}
            stroke={p.colors[i]}
            strokeWidth={i === last ? 2.7 : i === 0 ? 2.2 : 1.9}
            strokeLinejoin="round"
            dot={false}
            activeDot={false}
            isAnimationActive={false}
          />
        ))}
        {(p.peakText || []).map((t, i) => (
          <ReferenceDot
            key={"pk" + i}
            xAxisId="x"
            yAxisId="y"
            x={p.peakWn![i]}
            y={p.peakAbs![i]}
            r={2}
            fill="none"
            stroke="none"
            ifOverflow="visible"
            label={peakLabel(t, p.peakTone![i], p.peakBelow![i])}
          />
        ))}
      </LineChart>
    </div>
  );
}

function ColorBar({ left, labels }: { left: number; labels: string[] }) {
  const data = labels.map((v) => ({ v, one: 1 }));
  const tick = (props: any) => (
    <text
      transform={`translate(${props.x + 7},${props.y}) scale(${CB_SX},1)`}
      dy="0.36em"
      fontSize={CB_FS}
      fontFamily={FONT}
      fill={LABEL_INK}
    >
      {props.payload.value}
    </text>
  );
  return (
    <div style={{ position: "absolute", left, top: TOP_Y }}>
      <BarChart
        layout="vertical"
        width={26 + 112}
        height={LOW_BOTTOM - TOP_Y}
        data={data}
        margin={{ top: 0, right: 0, bottom: 0, left: 0 }}
        barCategoryGap={0}
      >
        <XAxis type="number" hide domain={[0, 1]} />
        <YAxis
          type="category"
          dataKey="v"
          orientation="right"
          width={112}
          axisLine={false}
          tickLine={false}
          tickSize={0}
          tickMargin={0}
          interval={0}
          tick={tick}
        />
        <Bar dataKey="one" isAnimationActive={false}>
          {data.map((_, i) => (
            <Cell key={i} fill={BAR_COLORS[i]} />
          ))}
        </Bar>
      </BarChart>
    </div>
  );
}

function Titles() {
  const plotMid = (col: number) => COL_LEFT[col] + AXIS_W + (CHART_W - AXIS_W - PAD_R) / 2;
  const letterX = (col: number) => COL_LEFT[col] + CHART_W - PAD_R - 17;
  const txt = { fontFamily: FONT, fill: LABEL_INK };
  return (
    <svg width={1233} height={819} style={{ position: "absolute", left: 0, top: 0, pointerEvents: "none" }}>
      <text transform={`translate(36,${(TOP_Y + TOP_BOTTOM) / 2}) rotate(-90)`} textAnchor="middle" fontSize={TITLE_FS} {...txt}>
        absorbance
      </text>
      <text transform={`translate(36,${(LOW_Y + LOW_BOTTOM) / 2}) rotate(-90)`} textAnchor="middle" fontSize={TITLE_FS} {...txt}>
        Δ absorbance
      </text>
      {[0, 1].map((c) => (
        <text
          key={"t" + c}
          transform={`translate(${plotMid(c)},813) scale(${TITLE_SX},1)`}
          textAnchor="middle"
          fontSize={TITLE_FS}
          {...txt}
        >
          wavenumber [cm
          <tspan dy={-10} fontSize={16}>
            -1
          </tspan>
          <tspan dy={10}>]</tspan>
        </text>
      ))}
      {[
        ["A", 0, TOP_Y + 33],
        ["B", 1, TOP_Y + 33],
        ["C", 0, LOW_Y + 21],
        ["D", 1, LOW_Y + 21],
      ].map(([l, c, y]) => (
        <text key={l as string} x={letterX(c as number)} y={y as number} textAnchor="middle" fontSize={LETTER_FS} {...txt}>
          {l}
        </text>
      ))}
    </svg>
  );
}

export default function App() {
  const top = { top: 0, height: 380, marginTop: TOP_Y, marginBottom: 380 - TOP_BOTTOM, xAxisHeight: 0 };
  const low = { top: 370, height: 449, marginTop: LOW_Y - 370, marginBottom: 0, xAxisHeight: 370 + 449 - LOW_BOTTOM };
  return (
    <div style={{ position: "absolute", left: 0, top: 0, width: 1233, height: 819, background: "#ffffff", overflow: "hidden" }}>
      <SpectrumPanel
        left={COL_LEFT[0]}
        {...top}
        wn={A_WN}
        series={A_ABS}
        colors={SPECTRUM_COLORS}
        xDomain={[1650, 2121]}
        yDomain={[-0.028, 0.35]}
        yMajor={ABS_Y_MAJOR}
        yMinor={ABS_Y_MINOR}
        yDigits={1}
        xMajor={[]}
        xMinor={[]}
        boxTop
        peakText={A_PEAK_TEXT}
        peakWn={A_PEAK_WN}
        peakAbs={A_PEAK_ABS}
        peakTone={A_PEAK_TONE}
        peakBelow={A_PEAK_BELOW}
      />
      <SpectrumPanel
        left={COL_LEFT[0]}
        {...low}
        wn={A_WN}
        series={C_DELTA}
        colors={BAR_COLORS}
        xDomain={[1650, 2121]}
        yDomain={[-0.3, 0.25]}
        yMajor={C_Y_MAJOR}
        yMinor={C_Y_MINOR}
        yDigits={1}
        xMajor={X_MAJOR}
        xMinor={C_X_MINOR}
        boxTop={false}
      />
      <SpectrumPanel
        left={COL_LEFT[1]}
        {...top}
        wn={B_WN}
        series={B_ABS}
        colors={SPECTRUM_COLORS}
        xDomain={[1630, 2100]}
        yDomain={[-0.028, 0.35]}
        yMajor={ABS_Y_MAJOR}
        yMinor={ABS_Y_MINOR}
        yDigits={1}
        xMajor={[]}
        xMinor={[]}
        boxTop
        peakText={B_PEAK_TEXT}
        peakWn={B_PEAK_WN}
        peakAbs={B_PEAK_ABS}
        peakTone={B_PEAK_TONE}
        peakBelow={B_PEAK_BELOW}
      />
      <SpectrumPanel
        left={COL_LEFT[1]}
        {...low}
        wn={B_WN}
        series={D_DELTA}
        colors={BAR_COLORS}
        xDomain={[1630, 2100]}
        yDomain={[-0.131, 0.171]}
        yMajor={D_Y_MAJOR}
        yMinor={D_Y_MINOR}
        yDigits={2}
        xMajor={X_MAJOR}
        xMinor={D_X_MINOR}
        boxTop={false}
      />
      <ColorBar left={CBAR_LEFT[0]} labels={VOLTS_LEFT} />
      <ColorBar left={CBAR_LEFT[1]} labels={VOLTS_RIGHT} />
      <Titles />
    </div>
  );
}
